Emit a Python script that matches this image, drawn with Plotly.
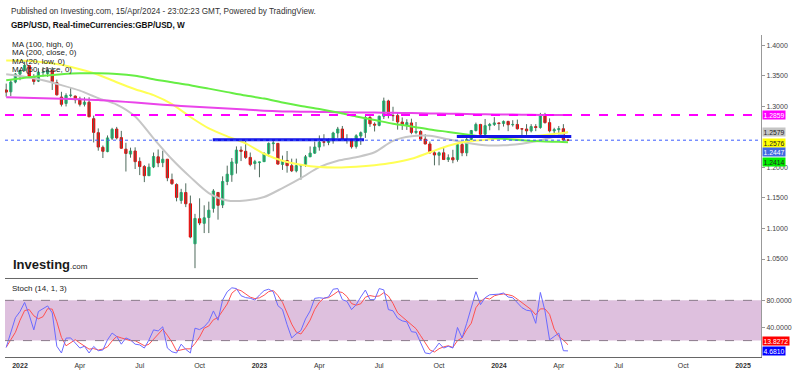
import plotly.graph_objects as go
import pandas as pd

# ---------------- DATA ----------------
open_ = [1.3270,1.3240,1.3400,1.3530,1.3590,1.3670,1.3490,1.3415,1.3555,1.3540,1.3590,1.3390,1.3155,1.3050,1.3180,1.3170,1.3120,1.3035,1.3070,1.2800,
         1.2570,1.2330,1.2260,1.2480,1.2630,1.2490,1.2300,1.2220,1.2270,1.2100,1.2015,1.1865,1.2010,1.2175,1.2080,1.2135,1.1800,1.1720,1.1460,1.1590,
         1.1405,1.0750,1.1160,1.1085,1.1180,1.1330,1.1590,1.1385,1.1770,1.1880,1.2070,1.2285,1.2265,1.2165,1.2065,1.2080,1.2095,1.2230,1.2390,1.2395,
         1.2050,1.2115,1.2030,1.1945,1.2030,1.2050,1.2175,1.2235,1.2335,1.2420,1.2410,1.2440,1.2565,1.2630,1.2450,1.2445,1.2345,1.2515,1.2575,1.2820,
         1.2710,1.2690,1.2840,1.3090,1.2850,1.2850,1.2745,1.2695,1.2730,1.2575,1.2590,1.2465,1.2385,1.2240,1.2200,1.2240,1.2130,1.2160,1.2130,1.2375,
         1.2240,1.2460,1.2605,1.2705,1.2545,1.2685,1.2705,1.2730,1.2720,1.2755,1.2700,1.2705,1.2635,1.2630,1.2600,1.2670,1.2655,1.2860,1.2735,1.2600,
         1.2620,1.2635,1.2450]
high = [1.3375,1.3438,1.3548,1.3600,1.3749,1.3680,1.3530,1.3628,1.3645,1.3645,1.3645,1.3440,1.3240,1.3215,1.3300,1.3180,1.3160,1.3150,1.3150,1.2850,
        1.2640,1.2360,1.2525,1.2650,1.2665,1.2600,1.2405,1.2325,1.2330,1.2165,1.2040,1.2065,1.2245,1.2295,1.2275,1.2140,1.1900,1.1740,1.1650,1.1740,
        1.1540,1.1240,1.1495,1.1380,1.1440,1.1645,1.1600,1.1855,1.2030,1.2155,1.2345,1.2345,1.2445,1.2245,1.2125,1.2095,1.2250,1.2410,1.2450,1.2400,
        1.2195,1.2270,1.2145,1.2145,1.2050,1.2205,1.2345,1.2425,1.2525,1.2545,1.2475,1.2585,1.2665,1.2680,1.2545,1.2470,1.2545,1.2590,1.2850,1.2850,
        1.2740,1.2850,1.3145,1.3110,1.2995,1.2895,1.2820,1.2790,1.2800,1.2745,1.2610,1.2545,1.2425,1.2270,1.2260,1.2335,1.2215,1.2290,1.2385,1.2430,
        1.2505,1.2615,1.2735,1.2715,1.2795,1.2730,1.2825,1.2735,1.2770,1.2765,1.2775,1.2785,1.2645,1.2710,1.2710,1.2710,1.2895,1.2895,1.2805,1.2650,
        1.2680,1.2710,1.2470]
low = [1.3160,1.3170,1.3380,1.3430,1.3575,1.3520,1.3358,1.3400,1.3490,1.3485,1.3270,1.3180,1.3000,1.3000,1.3150,1.3050,1.3000,1.3000,1.2830,1.2410,
       1.2275,1.2155,1.2250,1.2450,1.2460,1.2310,1.1934,1.2160,1.1975,1.1875,1.1760,1.1860,1.1990,1.2005,1.2005,1.1775,1.1715,1.1445,1.1405,1.1350,
       1.0840,1.0350,1.1055,1.0925,1.0925,1.1260,1.1145,1.1335,1.1710,1.1765,1.1900,1.2105,1.2140,1.2020,1.1965,1.1840,1.2090,1.2180,1.2265,1.2050,
       1.1960,1.1915,1.1925,1.1920,1.1800,1.2010,1.2170,1.2225,1.2275,1.2345,1.2365,1.2390,1.2485,1.2445,1.2390,1.2310,1.2310,1.2370,1.2485,1.2665,
       1.2590,1.2675,1.2795,1.2805,1.2760,1.2620,1.2615,1.2615,1.2545,1.2545,1.2445,1.2380,1.2230,1.2035,1.2035,1.2125,1.2090,1.2070,1.2095,1.2185,
       1.2185,1.2440,1.2590,1.2500,1.2500,1.2610,1.2680,1.2610,1.2670,1.2595,1.2670,1.2620,1.2520,1.2535,1.2575,1.2595,1.2635,1.2720,1.2575,1.2540,
       1.2540,1.2425,1.2435]
close = [1.3235,1.3400,1.3531,1.3590,1.3675,1.3495,1.3410,1.3560,1.3560,1.3590,1.3410,1.3190,1.3035,1.3180,1.3185,1.3110,1.3035,1.3070,1.2830,1.2575,
         1.2335,1.2265,1.2485,1.2625,1.2485,1.2315,1.2230,1.2270,1.2095,1.2015,1.1865,1.2005,1.2180,1.2075,1.2135,1.1830,1.1735,1.1510,1.1590,1.1405,
         1.0860,1.1165,1.1090,1.1175,1.1300,1.1615,1.1380,1.1770,1.1890,1.2090,1.2285,1.2265,1.2165,1.2050,1.2095,1.2090,1.2230,1.2395,1.2400,1.2055,
         1.2115,1.2030,1.1945,1.2030,1.2030,1.2175,1.2235,1.2335,1.2415,1.2415,1.2440,1.2565,1.2630,1.2450,1.2445,1.2340,1.2520,1.2570,1.2820,1.2715,
         1.2695,1.2840,1.3090,1.2855,1.2850,1.2745,1.2695,1.2735,1.2575,1.2590,1.2465,1.2385,1.2240,1.2205,1.2240,1.2130,1.2160,1.2125,1.2375,1.2240,
         1.2460,1.2605,1.2705,1.2545,1.2685,1.2705,1.2730,1.2720,1.2755,1.2700,1.2705,1.2635,1.2630,1.2600,1.2670,1.2655,1.2860,1.2735,1.2600,1.2620,
         1.2635,1.2450,1.2447]
dates = pd.date_range("2021-12-13", periods=len(close), freq="7D")

# moving averages, read every 4th week (+ last week)
ma_weeks = [0,4,8,12,16,20,24,28,32,36,40,44,48,52,56,60,64,68,72,76,80,84,88,92,96,100,104,108,112,116,120,122]
ma100_high = [1.3430,1.3471,1.3503,1.3528,1.3544,1.3544,1.3533,1.3503,1.3446,1.3397,1.3349,1.3292,1.3235,1.3178,1.3129,1.3064,
              1.3007,1.2958,1.2901,1.2836,1.2778,1.2717,1.2673,1.2624,1.2583,1.2542,1.2502,1.2469,1.2445,1.2428,1.2420,1.2414]
ma200_close = [1.3150,1.3142,1.3134,1.3125,1.3117,1.3107,1.3086,1.3064,1.3041,1.3018,1.2998,1.2982,1.2966,1.2950,1.2930,1.2919,
               1.2914,1.2909,1.2906,1.2902,1.2899,1.2896,1.2891,1.2886,1.2881,1.2876,1.2871,1.2868,1.2865,1.2862,1.2860,1.2859]
ma20_low = [1.3528,1.3487,1.3430,1.3349,1.3259,1.3137,1.3031,1.2836,1.2477,1.2135,1.1842,1.1581,1.1459,1.1459,1.1516,1.1663,
            1.1826,1.2005,1.2111,1.2168,1.2249,1.2436,1.2510,1.2518,1.2461,1.2404,1.2363,1.2363,1.2388,1.2445,1.2526,1.2579]
ma50_close = [1.3752,1.3748,1.3723,1.3682,1.3609,1.3520,1.3397,1.3283,1.3186,1.3039,1.2827,1.2640,1.2510,1.2396,1.2225,1.2111,
              1.2046,1.2008,1.2000,1.2013,1.2038,1.2078,1.2143,1.2249,1.2355,1.2425,1.2453,1.2477,1.2497,1.2526,1.2559,1.2576]

# support lines drawn on chart
support_start = ["2022-10-23", "2023-10-29"]
support_end = ["2023-06-10", "2024-04-20"]
support_level = [1.2455, 1.2507]

# Stochastic (14,1,3)
stoch_k = [9.9,33.3,54.1,63.4,76.9,58.2,36.0,63.4,67.6,71.7,61.3,11.6,1.5,23.7,24.0,16.3,8.9,11.6,1.5,11.3,
           4.9,6.0,21.2,31.2,26.1,14.7,24.0,20.9,14.7,13.6,8.9,20.9,36.0,34.4,40.6,8.9,3.3,1.5,14.7,6.9,
           1.5,38.5,36.4,40.6,48.4,64.2,50.4,80.5,92.9,98.7,97.6,86.9,84.1,83.1,80.5,87.9,94.5,96.6,92.9,72.1,
           66.2,43.7,24.0,30.2,35.1,52.3,64.2,83.0,83.9,83.0,85.2,96.6,97.6,81.0,78.5,66.2,73.6,85.0,95.4,81.0,
           81.0,97.6,95.6,66.2,64.4,53.3,49.4,47.9,33.3,32.3,16.3,1.5,0.5,6.9,16.3,8.9,11.6,8.9,39.6,24.0,
           45.8,68.2,92.9,73.6,83.9,88.3,88.3,89.3,90.9,85.0,83.9,76.6,69.1,65.2,64.2,45.8,91.8,64.2,21.2,26.1,
           31.2,4.9,4.681]
stoch_d = [10.0,22.0,32.4,50.3,64.8,66.2,57.0,52.5,55.7,67.6,66.9,48.2,24.8,12.3,16.4,21.3,16.4,12.3,7.3,8.1,
           5.9,7.4,10.7,19.5,26.2,24.0,21.6,19.9,19.9,16.4,12.4,14.5,21.9,30.4,37.0,28.0,17.6,4.6,6.5,7.7,
           7.7,15.6,25.5,38.5,41.8,51.1,54.3,65.0,74.6,90.7,96.4,94.4,89.5,84.7,82.6,83.8,87.6,93.0,94.7,87.2,
           77.1,60.7,44.6,32.6,29.8,39.2,50.5,66.5,77.0,83.3,84.0,88.3,93.1,91.7,85.7,75.2,72.8,74.9,84.7,87.1,
           85.8,86.5,91.4,86.5,75.4,61.3,55.7,50.2,43.5,37.8,27.3,16.7,6.1,3.0,7.9,10.7,12.3,9.8,20.0,24.2,
           36.5,46.0,69.0,78.2,83.5,81.9,86.8,88.6,89.5,88.4,86.6,81.8,76.5,70.3,66.2,58.4,67.3,67.3,59.1,37.2,
           26.2,20.7,13.8272]

price_ticks = [1.05, 1.10, 1.15, 1.20, 1.30, 1.35, 1.40]
date_tickvals = ["2022-01-03","2022-04-04","2022-07-04","2022-10-03","2023-01-02","2023-04-03","2023-07-03",
                 "2023-10-02","2024-01-01","2024-04-01","2024-07-01","2024-10-07","2025-01-06"]
date_ticktext = ["<b>2022</b>","Apr","Jul","Oct","<b>2023</b>","Apr","Jul","Oct","<b>2024</b>","Apr","Jul","Oct","<b>2025</b>"]

# ---------------- STYLE / LAYOUT HELPERS ----------------
FONT = "Liberation Sans, Arial, sans-serif"
L, R, T, B = 5, 39, 35, 16
W, H = 800, 375
PW, PH = W - L - R, H - T - B
def px_x(px):
    return (px - L) / PW
def px_y(py):
    return (H - B - py) / PH

split = px_y(280)
base = pd.Timestamp("2022-01-03")
ppd = 4.605 / 7.0
x_left = base - pd.Timedelta(days=(20 - L) / ppd)
x_right = base + pd.Timedelta(days=(W - R - 20) / ppd)

# price axis: y pixel = 45.5 + (1.4 - p) * 614
p_top = 1.4 + (45.5 - T) / 614
p_bot = 1.4 - (280 - 45.5) / 614
# stoch axis: y pixel = 302 + (80 - v) * 0.675
s_top = 80 + (302 - 280) / 0.675
s_bot = 80 - (H - B - 302) / 0.675

GREEN, RED, WICK = "#22c47b", "#f80000", "#4f6a5c"

fig = go.Figure()

# wicks
wx, wy = [], []
for d, lo, hi in zip(dates, low, high):
    wx += [d, d, None]
    wy += [lo, hi, None]
fig.add_trace(go.Scatter(x=wx, y=wy, mode="lines", line=dict(color=WICK, width=1),
                         hoverinfo="skip", xaxis="x", yaxis="y"))

# bodies
body_hi = [max(o, c) for o, c in zip(open_, close)]
body_lo = [min(o, c) for o, c in zip(open_, close)]
fig.add_trace(go.Candlestick(x=dates, open=open_, high=body_hi, low=body_lo, close=close,
                             increasing=dict(line=dict(color=GREEN, width=1), fillcolor=GREEN),
                             decreasing=dict(line=dict(color=RED, width=1), fillcolor=RED),
                             whiskerwidth=0, xaxis="x", yaxis="y"))

ma_dates = [dates[i] for i in ma_weeks]
for vals, col in [(ma20_low, "#c6c6c6"), (ma50_close, "#ffff55"), (ma200_close, "#ea44ea"), (ma100_high, "#66ee44")]:
    fig.add_trace(go.Scatter(x=ma_dates, y=vals, mode="lines", line=dict(color=col, width=2, shape="spline", smoothing=0.8),
                             hoverinfo="skip", xaxis="x", yaxis="y"))

for s, e, lv in zip(support_start, support_end, support_level):
    fig.add_trace(go.Scatter(x=[s, e], y=[lv, lv], mode="lines", line=dict(color="#1414e6", width=3),
                             hoverinfo="skip", xaxis="x", yaxis="y"))

# stochastic
fig.add_trace(go.Scatter(x=dates, y=stoch_d, mode="lines", line=dict(color="#ff5050", width=1),
                         hoverinfo="skip", xaxis="x", yaxis="y2"))
fig.add_trace(go.Scatter(x=dates, y=stoch_k, mode="lines", line=dict(color="#6a6aff", width=1),
                         hoverinfo="skip", xaxis="x", yaxis="y2"))

shapes = [
    dict(type="rect", xref="paper", yref="y2", x0=0, x1=1, y0=20, y1=80, fillcolor="#dec0de",
         line=dict(width=0), layer="below"),
    dict(type="line", xref="paper", yref="y2", x0=0, x1=1, y0=80, y1=80, line=dict(color="#8a7a8a", width=1, dash="dash")),
    dict(type="line", xref="paper", yref="y2", x0=0, x1=1, y0=20, y1=20, line=dict(color="#8a7a8a", width=1, dash="dash")),
    dict(type="line", xref="paper", yref="y", x0=0, x1=1, y0=ma200_close[-1], y1=ma200_close[-1],
         line=dict(color="#ff00ff", width=2, dash="dash")),
    dict(type="line", xref="paper", yref="y", x0=0, x1=1, y0=close[-1], y1=close[-1],
         line=dict(color="#3a5cff", width=1, dash="dot")),
    dict(type="line", xref="paper", yref="paper", x0=0, x1=px_x(478), y0=split, y1=split,
         line=dict(color="#666666", width=1)),
]

ann = []
def txt(x, y, s, size=8, color="#222", bold=False):
    ann.append(dict(xref="paper", yref="paper", x=px_x(x), y=px_y(y), text=("<b>%s</b>" % s) if bold else s,
                    showarrow=False, xanchor="left", yanchor="middle", font=dict(family=FONT, size=size, color=color)))

txt(9, 11, "Published on Investing.com, 15/Apr/2024 - 23:02:23 GMT, Powered by TradingView.", 8.2, "#333")
txt(9, 25, "GBP/USD, Real-timeCurrencies:GBP/USD, W", 8.2, "#111", bold=True)
for k, s in enumerate(["MA (100, high, 0)", "MA (200, close, 0)", "MA (20, low, 0)", "MA (50, close, 0)"]):
    txt(10, 44.5 + k * 8.5, s, 8, "#222")
txt(10, 290.5, "Stoch (14, 1, 3)", 8, "#222")
ann.append(dict(xref="paper", yref="paper", x=px_x(11), y=px_y(266), xanchor="left", yanchor="middle", showarrow=False,
                text="<b>Investing</b><span style='font-size:8px'>.com</span>",
                font=dict(family="Liberation Sans Narrow, Liberation Sans, Arial", size=13, color="#1a1a1a")))

def tag(py, value, fmt, bg, fg):
    ann.append(dict(xref="paper", yref="paper", x=1, y=px_y(py), xanchor="left", yanchor="middle", showarrow=False,
                    text=fmt % value, bgcolor=bg, borderpad=0.5, xshift=0.5,
                    font=dict(family=FONT, size=6.8, color=fg)))

tag(115.8, ma200_close[-1], "%.4f", "#ff00ff", "white")
tag(132.7, ma20_low[-1], "%.4f", "#c4c4c4", "#222")
tag(143.2, ma50_close[-1], "%.4f", "#ffff00", "#222")
tag(153.0, close[-1], "%.4f", "#4169e1", "white")
tag(163.0, ma100_high[-1], "%.4f", "#00ee00", "#222")
tag(343.3, stoch_d[-1], "%.4f", "#ff0000", "white")
tag(353.3, stoch_k[-1], "%.4f", "#0000ff", "white")

fig.update_layout(
    width=W, height=H, margin=dict(l=L, r=R, t=T, b=B),
    paper_bgcolor="white", plot_bgcolor="white", showlegend=False,
    font=dict(family=FONT),
    xaxis=dict(type="date", range=[x_left, x_right], domain=[0, 1], anchor="y2",
               tickvals=date_tickvals, ticktext=date_ticktext, ticks="", showgrid=False, zeroline=False,
               tickfont=dict(size=7, color="#333", family=FONT), showline=True, linecolor="#666", linewidth=1,
               rangeslider=dict(visible=False), ticklabelstandoff=2),
    yaxis=dict(domain=[split, 1], range=[p_bot, p_top], side="right", anchor="x",
               tickvals=price_ticks, tickformat=".4f", ticks="outside", ticklen=3, tickcolor="#999",
               showline=True, linecolor="#999", linewidth=1, showgrid=False, zeroline=False,
               tickfont=dict(size=7, color="#444", family=FONT)),
    yaxis2=dict(domain=[0, split], range=[s_bot, s_top], side="right", anchor="x",
                tickvals=[40, 80], ticktext=["40.0000", "80.0000"], ticks="outside", ticklen=3, tickcolor="#999",
                showline=True, linecolor="#999", linewidth=1, showgrid=False, zeroline=False,
                tickfont=dict(size=7, color="#444", family=FONT)),
    shapes=shapes, annotations=ann,
)

fig.write_html("out.html", config={"displayModeBar": False},
               post_script="document.body.style.margin='0px';document.body.style.overflow='hidden';")
